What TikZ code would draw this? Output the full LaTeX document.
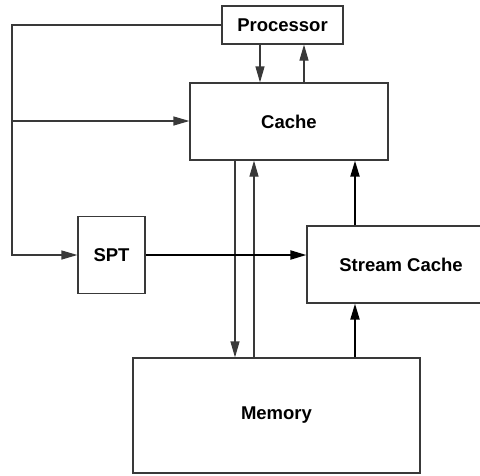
\documentclass[tikz,border=0pt]{standalone}
\usepackage{fontspec}
\setmainfont{Liberation Sans}
\usetikzlibrary{arrows.meta}
\begin{document}
\begin{tikzpicture}[x=1pt,y=-1pt,
 box/.style={draw=gray!45!black, line width=1.2pt, font=\bfseries\fontsize{18.5}{20}\selectfont, inner sep=0pt, rectangle},
 thinline/.style={draw=gray!45!black, line width=1.2pt},
 thickline/.style={draw=black, line width=2pt},
 tip/.style={-{Triangle[length=16pt,width=9pt]}}]
\clip (0,0) rectangle (480,475);
\node[box, minimum width=121pt, minimum height=38pt] (proc) at (282.5,25) {Processor};
\node[box, minimum width=198pt, minimum height=77pt] (cache) at (289,121.5) {Cache};
\node[box, minimum width=67pt, minimum height=77pt] (spt) at (111.5,255) {SPT};
\node[box, minimum width=188pt, minimum height=77pt] (sc) at (401,264.5) {Stream Cache};
\node[box, minimum width=287pt, minimum height=115pt] (mem) at (276.5,415.5) {Memory};
\coordinate (tl) at (12,25);
\coordinate (ml) at (12,121);
\coordinate (bl) at (12,255);
\coordinate (xa) at (260,0);
\coordinate (xb) at (304,0);
\coordinate (xc) at (235,0);
\coordinate (xd) at (254,0);
\coordinate (xe) at (355,0);
\draw[thinline, tip] (proc.west) -- (tl) -- (bl) -- (spt.west);
\draw[thinline, tip] (ml) -- (cache.west |- ml);
\draw[thinline, tip] (proc.south -| xa) -- (cache.north -| xa);
\draw[thinline, tip] (cache.north -| xb) -- (proc.south -| xb);
\draw[thinline, tip] (cache.south -| xc) -- (mem.north -| xc);
\draw[thinline, tip] (mem.north -| xd) -- (cache.south -| xd);
\draw[thickline, tip] (spt.east) -- (sc.west |- spt.east);
\draw[thickline, tip] (sc.north -| xe) -- (cache.south -| xe);
\draw[thickline, tip] (mem.north -| xe) -- (sc.south -| xe);
\end{tikzpicture}
\end{document}
